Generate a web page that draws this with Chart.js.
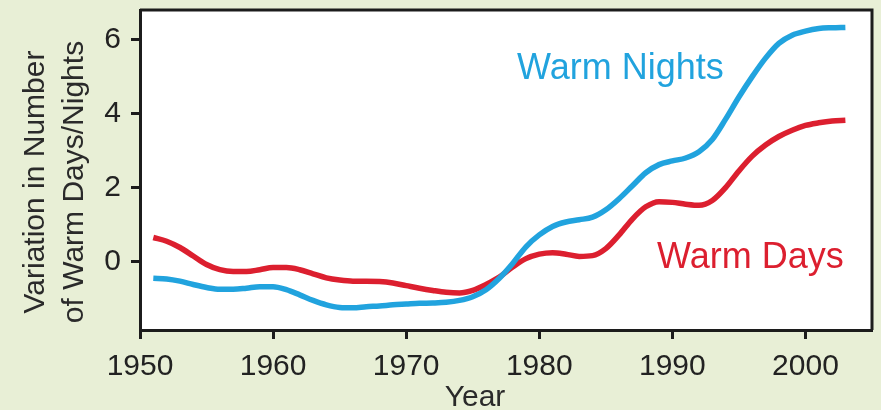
<!DOCTYPE html>
<html>
<head>
<meta charset="utf-8">
<script src="https://cdn.jsdelivr.net/npm/chart.js@4.4.1/dist/chart.umd.min.js"></script>
<style>
  html, body { margin: 0; padding: 0; background: #e8efd6; }
  #wrap { width: 881px; height: 410px; position: relative; }
</style>
</head>
<body>
<div id="wrap"><canvas id="chart"></canvas></div>
<script>
// Years 1951-2003, smoothed anomaly in number of warm days / nights
const years = [
  1951, 1952, 1953, 1954, 1955, 1956, 1957, 1958, 1959, 1960,
  1961, 1962, 1963, 1964, 1965, 1966, 1967, 1968, 1969, 1970,
  1971, 1972, 1973, 1974, 1975, 1976, 1977, 1978, 1979, 1980,
  1981, 1982, 1983, 1984, 1985, 1986, 1987, 1988, 1989, 1990,
  1991, 1992, 1993, 1994, 1995, 1996, 1997, 1998, 1999, 2000,
  2001, 2002, 2003
];

const warmDays = [
  0.65, 0.55, 0.38, 0.15, -0.08, -0.22, -0.27, -0.27, -0.22, -0.16,
  -0.16, -0.22, -0.33, -0.44, -0.50, -0.53, -0.53, -0.54, -0.58, -0.65,
  -0.72, -0.78, -0.83, -0.85, -0.78, -0.62, -0.42, -0.15, 0.08, 0.20,
  0.24, 0.20, 0.14, 0.16, 0.35, 0.72, 1.15, 1.48, 1.62, 1.60,
  1.55, 1.52, 1.65, 2.00, 2.45, 2.85, 3.15, 3.38, 3.55, 3.68,
  3.75, 3.80, 3.82
];

const warmNights = [
  -0.45, -0.47, -0.53, -0.62, -0.70, -0.75, -0.75, -0.72, -0.68, -0.68,
  -0.76, -0.90, -1.05, -1.17, -1.24, -1.25, -1.22, -1.20, -1.17, -1.15,
  -1.13, -1.12, -1.10, -1.05, -0.95, -0.76, -0.45, -0.05, 0.40, 0.72,
  0.95, 1.07, 1.13, 1.20, 1.40, 1.70, 2.05, 2.40, 2.62, 2.72,
  2.80, 2.97, 3.30, 3.85, 4.45, 5.00, 5.50, 5.90, 6.12, 6.23,
  6.30, 6.32, 6.33
];

const xTicks = [1950, 1960, 1970, 1980, 1990, 2000];
const yTicks = [0, 2, 4, 6];

const INK = '#1c1c1c';
const BLUE = '#21a3de';
const RED = '#dc1f2f';
const FONT = '"Liberation Sans", Arial, Helvetica, sans-serif';

const points = vals => years.map((yr, i) => ({ x: yr, y: vals[i] }));

/* white plot panel, top/right frame, and free text */
const decor = {
  id: 'decor',
  beforeDraw(chart) {
    const { ctx, chartArea: a } = chart;
    ctx.save();
    ctx.fillStyle = '#ffffff';
    ctx.fillRect(a.left, a.top, a.right - a.left, a.bottom - a.top);
    ctx.restore();
  },
  afterDraw(chart) {
    const { ctx, chartArea: a } = chart;
    ctx.save();
    ctx.strokeStyle = INK;
    ctx.lineWidth = 3;
    ctx.beginPath();
    ctx.moveTo(a.left, a.top);
    ctx.lineTo(a.right, a.top);
    ctx.lineTo(a.right, a.bottom);
    ctx.stroke();

    // series labels
    ctx.textBaseline = 'alphabetic';
    ctx.textAlign = 'left';
    ctx.font = '36px ' + FONT;
    ctx.fillStyle = BLUE;
    ctx.fillText('Warm Nights', 517, 79);
    ctx.fillStyle = RED;
    ctx.fillText('Warm Days', 657, 268);

    // axis titles
    ctx.fillStyle = '#2a2a2a';
    ctx.font = '30px ' + FONT;
    ctx.textAlign = 'center';
    ctx.fillText('Year', 475, 406);

    ctx.translate(0, 182);
    ctx.rotate(-Math.PI / 2);
    ctx.fillText('Variation in Number', 0, 44);
    ctx.fillText('of Warm Days/Nights', 0, 83);
    ctx.restore();
  }
};

new Chart(document.getElementById('chart'), {
  type: 'line',
  data: {
    datasets: [
      {
        label: 'Warm Nights',
        data: points(warmNights),
        borderColor: BLUE,
        borderWidth: 5.5,
        pointRadius: 0,
        tension: 0.4,
        cubicInterpolationMode: 'monotone',
      },
      {
        label: 'Warm Days',
        data: points(warmDays),
        borderColor: RED,
        borderWidth: 5.5,
        pointRadius: 0,
        tension: 0.4,
        cubicInterpolationMode: 'monotone',
      },
    ],
  },
  options: {
    responsive: true,
    maintainAspectRatio: false,
    animation: false,
    layout: { padding: { left: 0, top: 10, right: 9, bottom: 0 } },
    plugins: {
      legend: { display: false },
      tooltip: { enabled: false },
    },
    scales: {
      x: {
        type: 'linear',
        min: 1950,
        max: 2005,
        afterFit: s => { s.height = 80; s.paddingLeft = 0; s.paddingRight = 0; },
        afterBuildTicks: s => { s.ticks = xTicks.map(v => ({ value: v })); },
        ticks: {
          color: '#222',
          font: { family: FONT, size: 30 },
          padding: 10,
          maxRotation: 0,
          callback: v => String(v),
        },
        grid: {
          drawOnChartArea: false,
          drawTicks: true,
          tickLength: 9,
          tickWidth: 3,
          tickColor: INK,
        },
        border: { color: INK, width: 3 },
      },
      y: {
        min: -1.85,
        max: 6.8,
        afterFit: s => { s.width = 140; s.paddingTop = 0; s.paddingBottom = 0; },
        afterBuildTicks: s => { s.ticks = yTicks.map(v => ({ value: v })); },
        ticks: {
          color: '#222',
          font: { family: FONT, size: 30 },
          padding: 10,
        },
        grid: {
          drawOnChartArea: false,
          drawTicks: true,
          tickLength: 9,
          tickWidth: 3,
          tickColor: INK,
        },
        border: { color: INK, width: 3 },
      },
    },
  },
  plugins: [decor],
});
</script>
</body>
</html>
